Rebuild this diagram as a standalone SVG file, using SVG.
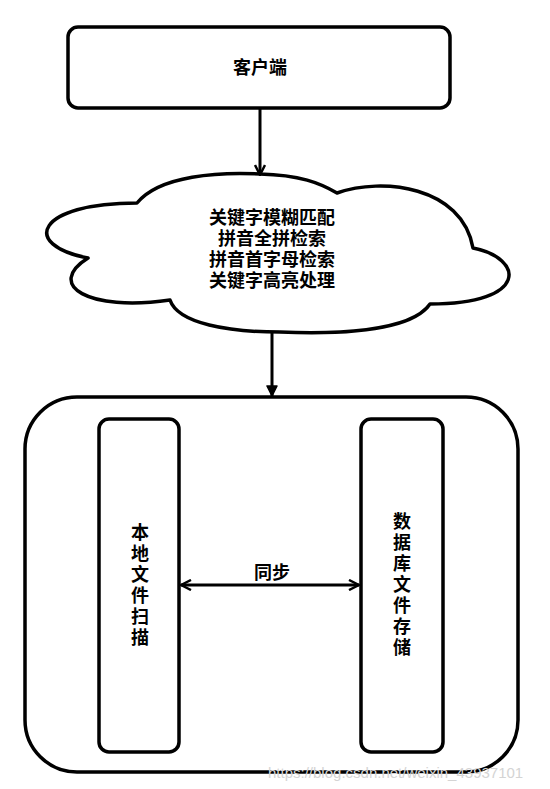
<svg xmlns="http://www.w3.org/2000/svg" width="550" height="789" viewBox="0 0 550 789">
<defs>
<style>
.box{fill:#fff;stroke:#000;stroke-width:3.5;stroke-linejoin:round}
.ln{fill:none;stroke:#000;stroke-width:3}
.t{font-family:"Noto Sans CJK SC","Noto Sans CJK JP",sans-serif;font-weight:bold;font-size:18px;fill:#000;text-anchor:middle}
.v{writing-mode:vertical-rl;text-orientation:upright;letter-spacing:3px}
.wm{font-family:"Liberation Sans",Arial,sans-serif;font-size:15px;fill:#d4d4d4}
</style>
<marker id="ah" viewBox="0 0 12 12" refX="11" refY="6" markerWidth="12" markerHeight="12" markerUnits="userSpaceOnUse" orient="auto-start-reverse">
<path d="M1,1 L11,6 L1,11" fill="none" stroke="#000" stroke-width="2.5" stroke-linejoin="round"/>
</marker>
<marker id="af" viewBox="0 0 12 12" refX="11" refY="6" markerWidth="12" markerHeight="12" markerUnits="userSpaceOnUse" orient="auto">
<path d="M1,1 L11,6 L1,11 Z" fill="#000" stroke="#000" stroke-width="1.5" stroke-linejoin="round"/>
</marker>
</defs>
<rect width="550" height="789" fill="#fff"/>
<g id="client">
<rect class="box" x="68" y="27" width="382" height="81" rx="10"/>
<text class="t" x="260" y="74">客户端</text>
</g>
<g id="cloud">
<path class="box" d="M137,203 C160,175 220,172 260,174 C300,175 320,183 337,193 C382,177 462,186 473,248 C524,258 530,304 430,304 C410,333 330,334 280,332 C230,332 178,324 170,300 C88,312 45,285 88,258 C20,245 36,203 137,203 Z"/>
<text class="t"><tspan x="272" y="224">关键字模糊匹配</tspan><tspan x="272" y="245">拼音全拼检索</tspan><tspan x="272" y="266">拼音首字母检索</tspan><tspan x="272" y="287">关键字高亮处理</tspan></text>
</g>
<g id="system">
<rect class="box" x="25" y="397" width="493" height="375" rx="52"/>
</g>
<g id="local-scan">
<rect class="box" x="99" y="419" width="80" height="333" rx="10"/>
<text class="t v" x="140" y="586">本地文件扫描</text>
</g>
<g id="db-store">
<rect class="box" x="361" y="419" width="82" height="333" rx="10"/>
<text class="t v" x="402" y="586">数据库文件存储</text>
</g>
<g id="connectors">
<line class="ln" x1="260" y1="108" x2="260" y2="175" marker-end="url(#ah)"/>
<line class="ln" x1="272" y1="333" x2="272" y2="396" marker-end="url(#af)"/>
<line class="ln" x1="181" y1="585" x2="359" y2="585" marker-start="url(#ah)" marker-end="url(#ah)"/>
<text class="t" x="272" y="579">同步</text>
</g>
<text class="wm" x="268" y="778">https://blog.csdn.net/weixin_43937101</text>
</svg>
